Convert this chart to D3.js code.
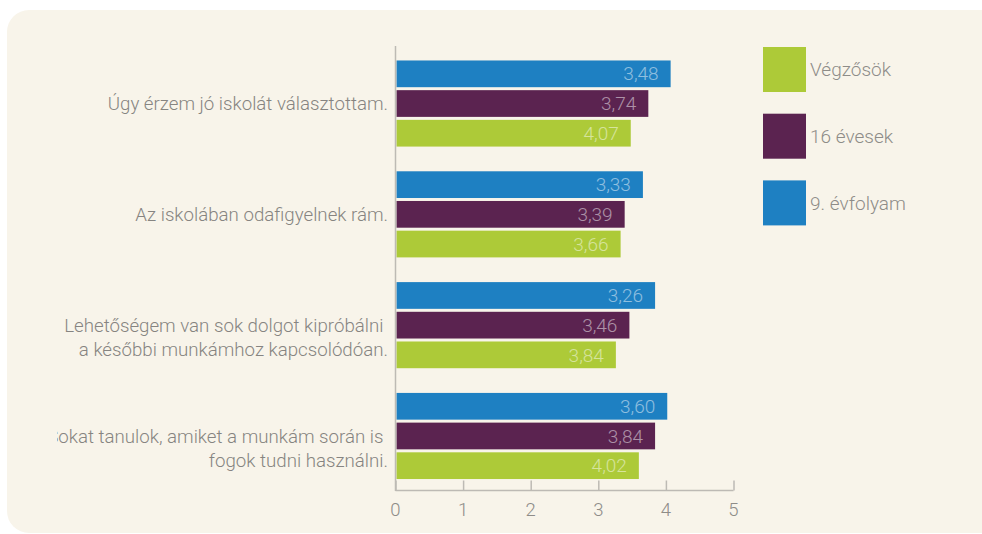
<!DOCTYPE html>
<html>
<head>
<meta charset="utf-8">
<script src="https://cdn.jsdelivr.net/npm/d3@7"></script>
<style>
  html, body { margin: 0; padding: 0; background: #ffffff; }
  svg { display: block; font-family: Roboto, "Noto Sans", sans-serif; }
</style>
</head>
<body>
<svg id="chart" width="982" height="534"></svg>
<script>
// ---- data ----
const categories = [
  ["Úgy érzem jó iskolát választottam."],
  ["Az iskolában odafigyelnek rám."],
  ["Lehetőségem van sok dolgot kipróbálni ", "a későbbi munkámhoz kapcsolódóan."],
  ["Sokat tanulok, amiket a munkám során is ", "fogok tudni használni."]
];
const seriesNames = ["Végzősök", "16 évesek", "9. évfolyam"];
const vegzosok   = [4.07, 3.66, 3.84, 4.02];
const evesek16   = [3.74, 3.39, 3.46, 3.84];
const evfolyam9  = [3.48, 3.33, 3.26, 3.60];
const xTicks = [0, 1, 2, 3, 4, 5];

// As in the reference: bar rows top→bottom are blue, purple, green;
// bar lengths and printed labels come from the series below.
const rows = [
  { color: "#1e80c2", length: vegzosok,  label: evfolyam9 },
  { color: "#5b2350", length: evesek16,  label: evesek16 },
  { color: "#adca38", length: evfolyam9, label: vegzosok }
];
const legendColors = ["#adca38", "#5b2350", "#1e80c2"];

// ---- layout ----
const svg = d3.select("#chart");
svg.append("rect").attr("x", 7).attr("y", 10).attr("width", 1000).attr("height", 523)
  .attr("rx", 22).attr("fill", "#f8f4ea");

const x = d3.scaleLinear().domain([0, 5]).range([395.5, 733.5]);
const y0 = d3.scaleBand().domain(d3.range(categories.length))
  .range([48.5, 491]).paddingInner(0.223).paddingOuter(0.108);
const y1 = d3.scaleBand().domain(d3.range(rows.length))
  .range([0, y0.bandwidth()]).paddingInner(0.1);

// bars
rows.forEach((r, ri) => {
  const g = svg.append("g");
  g.selectAll("rect").data(r.length).join("rect")
    .attr("x", x(0) + 1)
    .attr("y", (d, i) => y0(i) + y1(ri))
    .attr("width", d => x(d) - x(0) - 1)
    .attr("height", y1.bandwidth())
    .attr("fill", r.color);
  g.selectAll("text").data(r.label).join("text")
    .attr("x", (d, i) => x(r.length[i]) - 12)
    .attr("y", (d, i) => y0(i) + y1(ri) + y1.bandwidth() / 2)
    .attr("dy", "0.35em")
    .attr("text-anchor", "end")
    .attr("font-size", 19)
    .attr("font-weight", 300)
    .attr("fill", "#ffffff")
    .attr("fill-opacity", 0.5)
    .text(d => d.toFixed(2).replace(".", ","));
});

// axes
const axisColor = "#bdbab4";
const xAxis = svg.append("g").attr("transform", "translate(0,490.5)")
  .call(d3.axisTop(x).tickValues(xTicks).tickSize(10).tickFormat(""));
xAxis.select(".domain").attr("stroke", axisColor).attr("stroke-width", 1.5)
  .attr("d", `M${x(0)},0H${x(5)}`);
xAxis.selectAll(".tick line").attr("stroke", axisColor).attr("stroke-width", 1.5);
svg.append("g").selectAll("text").data(xTicks).join("text")
  .attr("x", d => x(d)).attr("y", 510).attr("dy", "0.35em")
  .attr("text-anchor", "middle").attr("font-size", 18.5).attr("font-weight", 300)
  .attr("fill", "#8e8c88").text(d => d);
svg.append("line").attr("x1", x(0)).attr("x2", x(0)).attr("y1", 46).attr("y2", 491)
  .attr("stroke", axisColor).attr("stroke-width", 1.5);

// category labels
svg.append("clipPath").attr("id", "lblclip").append("rect")
  .attr("x", 57).attr("y", 0).attr("width", 340).attr("height", 534);
const lab = svg.append("g").attr("clip-path", "url(#lblclip)");
categories.forEach((lines, i) => {
  const t = lab.append("text")
    .attr("text-anchor", "end").attr("font-size", 18.7).attr("font-weight", 300)
    .attr("fill", "#868481").style("white-space", "pre");
  lines.forEach((ln, j) => {
    t.append("tspan").attr("x", 388)
      .attr("y", y0(i) + y0.bandwidth() / 2 + j * 24)
      .attr("dy", "0.35em").text(ln);
  });
});

// legend
const leg = svg.append("g");
seriesNames.forEach((n, i) => {
  leg.append("rect").attr("x", 763).attr("y", 47 + i * 66.7)
    .attr("width", 43).attr("height", 45).attr("fill", legendColors[i]);
  leg.append("text").attr("x", 810).attr("y", 69.5 + i * 66.7).attr("dy", "0.35em")
    .attr("font-size", 19).attr("font-weight", 300).attr("fill", "#8e8c88").text(n);
});
</script>
</body>
</html>
